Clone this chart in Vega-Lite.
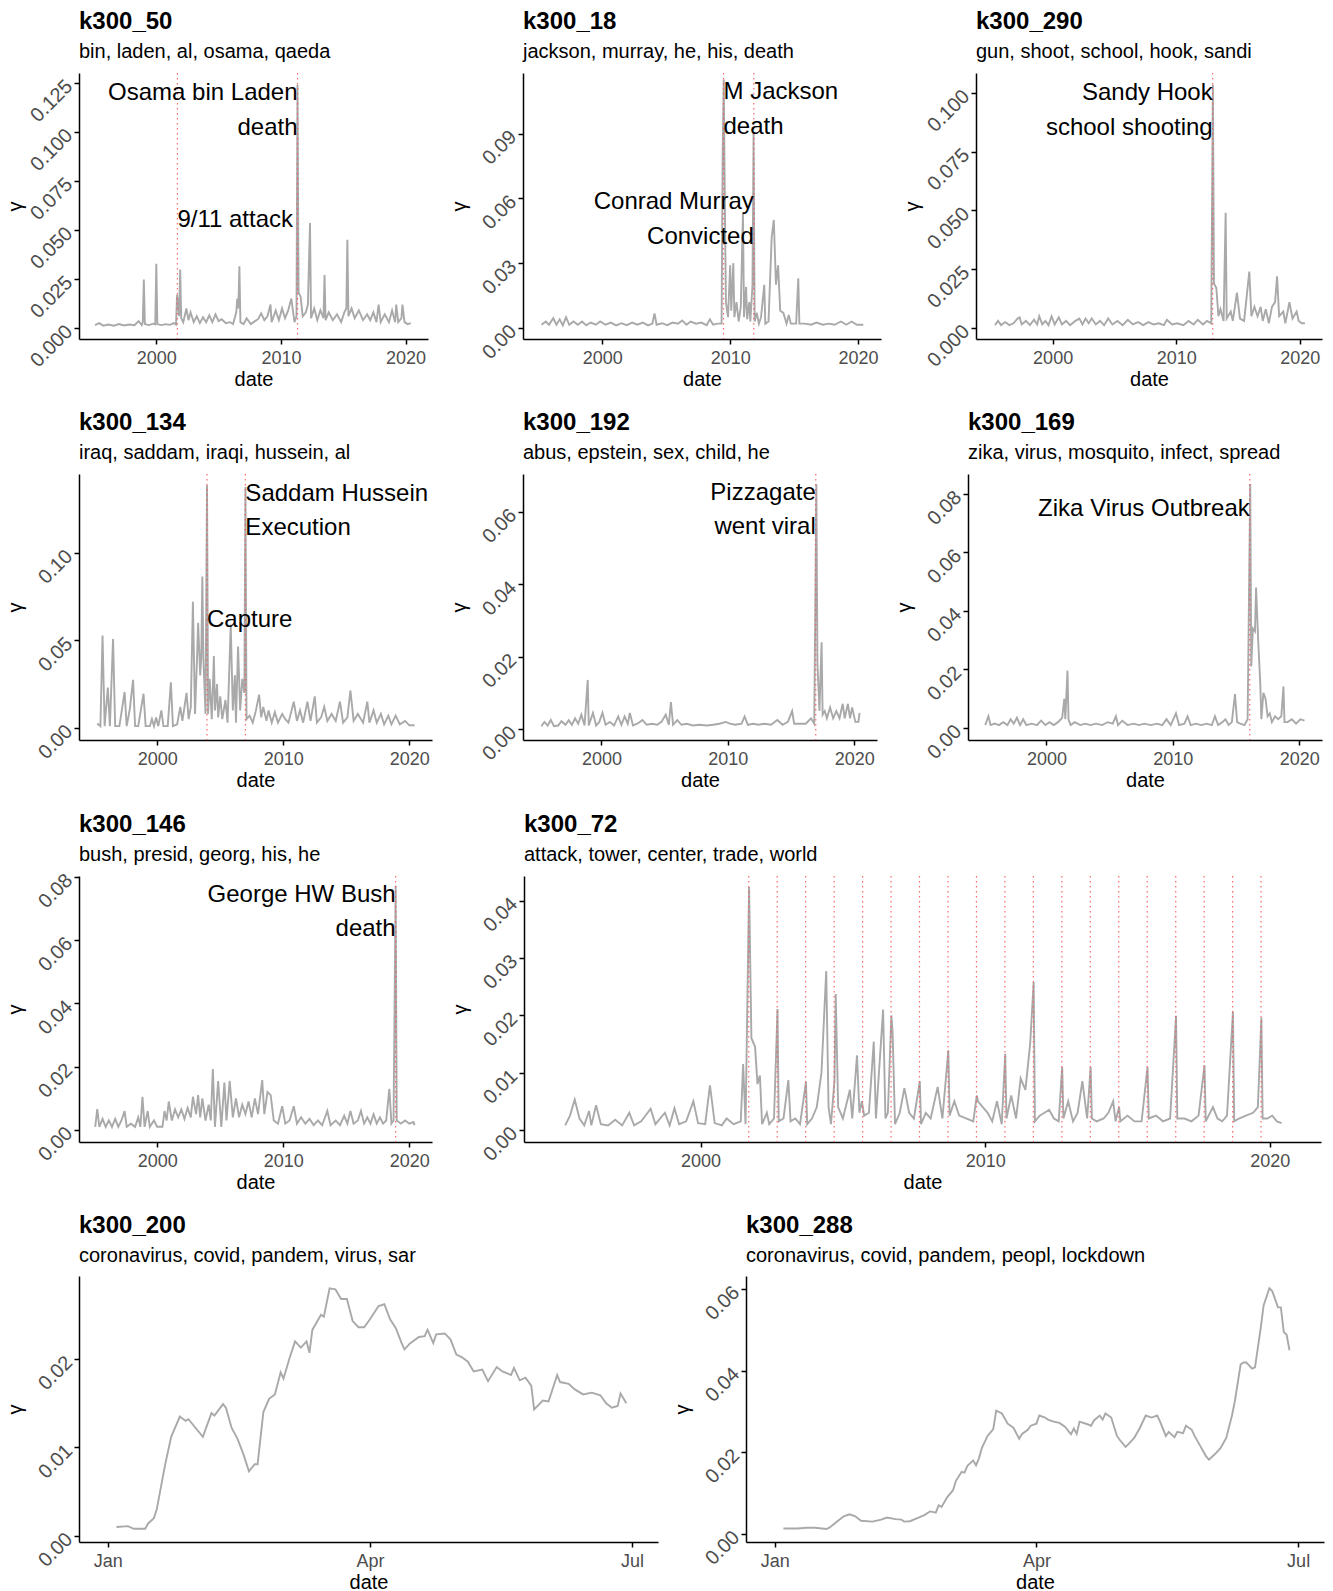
{
"$schema": "https://vega.github.io/schema/vega-lite/v6.json",
"background": "white",
"padding": {"left": 5, "top": 10, "right": 5, "bottom": 5},
"config": {
  "font": "Liberation Sans",
  "view": {"stroke": null},
  "axis": {"grid": false, "domainColor": "black", "domainWidth": 1.5, "tickColor": "black", "tickWidth": 1.5, "tickSize": 5, "labelColor": "#4d4d4d", "labelFontSize": 18, "labelFont": "Liberation Sans", "titleFont": "Liberation Sans", "titleFontSize": 20, "titleFontWeight": "normal", "titleColor": "black", "labelPadding": 5, "labelOverlap": false, "labelBound": false},
  "axisX": {"titlePadding": 2, "labelFlush": false},
  "axisY": {"labelAngle": -45, "labelAlign": "right", "labelBaseline": "middle", "labelFontSize": 20, "titleAngle": -90, "titleX": -64, "titleY": 133, "titleAlign": "center", "titleBaseline": "middle", "titleFontSize": 20},
  "title": {"anchor": "start", "frame": "group", "fontSize": 24, "fontWeight": "bold", "color": "black", "subtitleFontSize": 20, "subtitleColor": "black", "subtitleFont": "Liberation Sans", "subtitlePadding": 8, "offset": 10},
  "line": {"stroke": "#a9a9a9", "strokeWidth": 1.9},
  "rule": {"stroke": "#ff4d4d", "strokeWidth": 1.2, "strokeDash": [1.5, 3.5], "opacity": 0.85},
  "text": {"fontSize": 24, "color": "black", "baseline": "middle", "font": "Liberation Sans"}
},
"datasets": {
"p50": [{"d":"1995-02","v":0.0015},{"d":"1995-06","v":0.0025},{"d":"1995-10","v":0.0012},{"d":"1996-03","v":0.0018},{"d":"1996-08","v":0.0012},{"d":"1997-01","v":0.002},{"d":"1997-06","v":0.0013},{"d":"1997-11","v":0.0018},{"d":"1998-04","v":0.0014},{"d":"1998-08","v":0.0035},{"d":"1998-11","v":0.0015},{"d":"1998-12","v":0.003},{"d":"1999-01","v":0.0247},{"d":"1999-02","v":0.002},{"d":"1999-06","v":0.0015},{"d":"1999-10","v":0.0022},{"d":"1999-12","v":0.0018},{"d":"2000-01","v":0.0328},{"d":"2000-02","v":0.002},{"d":"2000-06","v":0.0015},{"d":"2000-10","v":0.002},{"d":"2001-02","v":0.0016},{"d":"2001-06","v":0.0025},{"d":"2001-08","v":0.0018},{"d":"2001-09","v":0.017},{"d":"2001-10","v":0.012},{"d":"2001-11","v":0.006},{"d":"2001-12","v":0.0298},{"d":"2002-01","v":0.005},{"d":"2002-03","v":0.003},{"d":"2002-06","v":0.01},{"d":"2002-08","v":0.004},{"d":"2002-10","v":0.008},{"d":"2003-01","v":0.003},{"d":"2003-04","v":0.006},{"d":"2003-07","v":0.0025},{"d":"2003-10","v":0.0055},{"d":"2004-01","v":0.003},{"d":"2004-04","v":0.0065},{"d":"2004-07","v":0.003},{"d":"2004-10","v":0.007},{"d":"2005-01","v":0.0035},{"d":"2005-04","v":0.0045},{"d":"2005-08","v":0.0025},{"d":"2005-12","v":0.003},{"d":"2006-03","v":0.002},{"d":"2006-06","v":0.008},{"d":"2006-07","v":0.015},{"d":"2006-08","v":0.01},{"d":"2006-09","v":0.0315},{"d":"2006-10","v":0.003},{"d":"2007-01","v":0.002},{"d":"2007-04","v":0.005},{"d":"2007-08","v":0.002},{"d":"2007-12","v":0.0035},{"d":"2008-03","v":0.0045},{"d":"2008-06","v":0.0075},{"d":"2008-09","v":0.004},{"d":"2008-12","v":0.006},{"d":"2009-03","v":0.012},{"d":"2009-04","v":0.003},{"d":"2009-08","v":0.009},{"d":"2009-11","v":0.004},{"d":"2010-02","v":0.01},{"d":"2010-05","v":0.005},{"d":"2010-08","v":0.009},{"d":"2010-11","v":0.015},{"d":"2011-02","v":0.003},{"d":"2011-04","v":0.006},{"d":"2011-05","v":0.124},{"d":"2011-06","v":0.018},{"d":"2011-08","v":0.016},{"d":"2011-10","v":0.006},{"d":"2012-01","v":0.008},{"d":"2012-03","v":0.012},{"d":"2012-05","v":0.0536},{"d":"2012-06","v":0.005},{"d":"2012-09","v":0.01},{"d":"2012-12","v":0.004},{"d":"2013-03","v":0.009},{"d":"2013-06","v":0.005},{"d":"2013-07","v":0.027},{"d":"2013-08","v":0.004},{"d":"2013-11","v":0.008},{"d":"2014-03","v":0.004},{"d":"2014-07","v":0.007},{"d":"2014-11","v":0.003},{"d":"2015-02","v":0.008},{"d":"2015-04","v":0.01},{"d":"2015-05","v":0.045},{"d":"2015-06","v":0.006},{"d":"2015-09","v":0.01},{"d":"2015-12","v":0.005},{"d":"2016-04","v":0.009},{"d":"2016-08","v":0.004},{"d":"2016-12","v":0.007},{"d":"2017-03","v":0.004},{"d":"2017-06","v":0.008},{"d":"2017-09","v":0.003},{"d":"2017-11","v":0.012},{"d":"2018-01","v":0.003},{"d":"2018-05","v":0.007},{"d":"2018-09","v":0.003},{"d":"2018-12","v":0.009},{"d":"2019-03","v":0.003},{"d":"2019-04","v":0.012},{"d":"2019-06","v":0.003},{"d":"2019-09","v":0.005},{"d":"2019-10","v":0.012},{"d":"2019-12","v":0.003},{"d":"2020-03","v":0.002},{"d":"2020-06","v":0.0025}],
"p18": [{"d":"1995-04","v":0.0015},{"d":"1995-08","v":0.003},{"d":"1995-11","v":0.0015},{"d":"1996-03","v":0.0045},{"d":"1996-06","v":0.0015},{"d":"1996-09","v":0.004},{"d":"1996-12","v":0.0012},{"d":"1997-03","v":0.005},{"d":"1997-06","v":0.0015},{"d":"1997-10","v":0.003},{"d":"1998-02","v":0.0015},{"d":"1998-06","v":0.003},{"d":"1998-10","v":0.0012},{"d":"1999-02","v":0.0025},{"d":"1999-07","v":0.0015},{"d":"1999-11","v":0.003},{"d":"2000-04","v":0.0015},{"d":"2000-09","v":0.0025},{"d":"2001-02","v":0.0012},{"d":"2001-07","v":0.0022},{"d":"2001-12","v":0.0013},{"d":"2002-05","v":0.0025},{"d":"2002-10","v":0.0015},{"d":"2003-03","v":0.0025},{"d":"2003-08","v":0.0012},{"d":"2003-12","v":0.002},{"d":"2004-02","v":0.0067},{"d":"2004-04","v":0.0015},{"d":"2004-09","v":0.0022},{"d":"2005-02","v":0.0013},{"d":"2005-07","v":0.0025},{"d":"2005-12","v":0.002},{"d":"2006-04","v":0.0035},{"d":"2006-08","v":0.0015},{"d":"2006-12","v":0.003},{"d":"2007-05","v":0.002},{"d":"2007-10","v":0.0025},{"d":"2008-03","v":0.0013},{"d":"2008-06","v":0.004},{"d":"2008-09","v":0.0015},{"d":"2009-01","v":0.002},{"d":"2009-05","v":0.002},{"d":"2009-06","v":0.08},{"d":"2009-07","v":0.115},{"d":"2009-08","v":0.06},{"d":"2009-09","v":0.012},{"d":"2009-11","v":0.005},{"d":"2010-01","v":0.029},{"d":"2010-02","v":0.008},{"d":"2010-04","v":0.03},{"d":"2010-05","v":0.005},{"d":"2010-07","v":0.012},{"d":"2010-09","v":0.003},{"d":"2010-11","v":0.01},{"d":"2011-01","v":0.053},{"d":"2011-02","v":0.005},{"d":"2011-04","v":0.019},{"d":"2011-05","v":0.004},{"d":"2011-07","v":0.012},{"d":"2011-08","v":0.003},{"d":"2011-10","v":0.02},{"d":"2011-11","v":0.09},{"d":"2011-12","v":0.003},{"d":"2012-02","v":0.007},{"d":"2012-04","v":0.002},{"d":"2012-06","v":0.005},{"d":"2012-09","v":0.02},{"d":"2012-10","v":0.002},{"d":"2013-01","v":0.003},{"d":"2013-04","v":0.042},{"d":"2013-06","v":0.05},{"d":"2013-08","v":0.02},{"d":"2013-10","v":0.029},{"d":"2013-12","v":0.008},{"d":"2014-03","v":0.007},{"d":"2014-06","v":0.002},{"d":"2014-08","v":0.006},{"d":"2014-10","v":0.002},{"d":"2015-03","v":0.002},{"d":"2015-05","v":0.023},{"d":"2015-06","v":0.002},{"d":"2015-11","v":0.002},{"d":"2016-05","v":0.0015},{"d":"2016-10","v":0.0025},{"d":"2017-04","v":0.0015},{"d":"2017-10","v":0.002},{"d":"2018-03","v":0.0015},{"d":"2018-09","v":0.003},{"d":"2019-02","v":0.0015},{"d":"2019-07","v":0.003},{"d":"2019-12","v":0.0015},{"d":"2020-06","v":0.0015}],
"p290": [{"d":"1995-05","v":0.0012},{"d":"1995-08","v":0.003},{"d":"1995-11","v":0.0012},{"d":"1996-03","v":0.0025},{"d":"1996-07","v":0.0012},{"d":"1996-11","v":0.002},{"d":"1997-03","v":0.004},{"d":"1997-05","v":0.0045},{"d":"1997-07","v":0.0015},{"d":"1997-11","v":0.003},{"d":"1998-03","v":0.0012},{"d":"1998-07","v":0.0035},{"d":"1998-10","v":0.0015},{"d":"1998-12","v":0.005},{"d":"1999-03","v":0.0015},{"d":"1999-06","v":0.003},{"d":"1999-09","v":0.0012},{"d":"1999-12","v":0.005},{"d":"2000-03","v":0.0015},{"d":"2000-07","v":0.0045},{"d":"2000-10","v":0.0015},{"d":"2001-02","v":0.003},{"d":"2001-06","v":0.0012},{"d":"2001-11","v":0.003},{"d":"2002-03","v":0.004},{"d":"2002-06","v":0.0015},{"d":"2002-09","v":0.004},{"d":"2002-12","v":0.002},{"d":"2003-03","v":0.004},{"d":"2003-07","v":0.0015},{"d":"2003-11","v":0.003},{"d":"2004-03","v":0.0012},{"d":"2004-07","v":0.004},{"d":"2004-11","v":0.0015},{"d":"2005-04","v":0.003},{"d":"2005-09","v":0.0012},{"d":"2006-02","v":0.0035},{"d":"2006-07","v":0.0015},{"d":"2006-12","v":0.0025},{"d":"2007-05","v":0.0012},{"d":"2007-10","v":0.0025},{"d":"2008-03","v":0.0015},{"d":"2008-08","v":0.002},{"d":"2009-01","v":0.0012},{"d":"2009-04","v":0.0035},{"d":"2009-09","v":0.0015},{"d":"2010-02","v":0.002},{"d":"2010-08","v":0.0012},{"d":"2011-01","v":0.003},{"d":"2011-06","v":0.0015},{"d":"2011-10","v":0.0035},{"d":"2012-03","v":0.0015},{"d":"2012-07","v":0.003},{"d":"2012-11","v":0.002},{"d":"2012-12-20","v":0.1035},{"d":"2013-01-20","v":0.019},{"d":"2013-04","v":0.017},{"d":"2013-06","v":0.005},{"d":"2013-08","v":0.008},{"d":"2013-11","v":0.003},{"d":"2014-01","v":0.049},{"d":"2014-02","v":0.004},{"d":"2014-06","v":0.007},{"d":"2014-08","v":0.003},{"d":"2014-12","v":0.015},{"d":"2015-03","v":0.004},{"d":"2015-07","v":0.003},{"d":"2015-12","v":0.024},{"d":"2016-02","v":0.005},{"d":"2016-05","v":0.009},{"d":"2016-08","v":0.005},{"d":"2016-11","v":0.009},{"d":"2017-01","v":0.003},{"d":"2017-04","v":0.008},{"d":"2017-07","v":0.002},{"d":"2017-10","v":0.009},{"d":"2018-01","v":0.011},{"d":"2018-03","v":0.022},{"d":"2018-05","v":0.005},{"d":"2018-09","v":0.007},{"d":"2018-11","v":0.002},{"d":"2019-03","v":0.011},{"d":"2019-06","v":0.004},{"d":"2019-10","v":0.007},{"d":"2019-12","v":0.003},{"d":"2020-03","v":0.002},{"d":"2020-06","v":0.002}],
"p134": [{"d":"1995-04","v":0.0025},{"d":"1995-07","v":0.001},{"d":"1995-09","v":0.0528},{"d":"1995-11","v":0.001},{"d":"1996-02","v":0.023},{"d":"1996-04","v":0.001},{"d":"1996-07","v":0.0507},{"d":"1996-09","v":0.001},{"d":"1997-01","v":0.001},{"d":"1997-06","v":0.0205},{"d":"1997-08","v":0.001},{"d":"1997-11","v":0.011},{"d":"1998-02","v":0.0275},{"d":"1998-04","v":0.001},{"d":"1998-07","v":0.001},{"d":"1998-12","v":0.0195},{"d":"1999-02","v":0.001},{"d":"1999-06","v":0.001},{"d":"1999-08","v":0.005},{"d":"1999-10","v":0.001},{"d":"1999-12","v":0.006},{"d":"2000-02","v":0.001},{"d":"2000-05","v":0.01},{"d":"2000-07","v":0.001},{"d":"2000-11","v":0.001},{"d":"2001-02","v":0.026},{"d":"2001-04","v":0.001},{"d":"2001-08","v":0.002},{"d":"2001-11","v":0.012},{"d":"2002-01","v":0.004},{"d":"2002-05","v":0.02},{"d":"2002-07","v":0.005},{"d":"2002-09","v":0.012},{"d":"2002-11","v":0.072},{"d":"2003-01","v":0.008},{"d":"2003-03","v":0.04},{"d":"2003-04","v":0.06},{"d":"2003-06","v":0.03},{"d":"2003-07","v":0.04},{"d":"2003-08","v":0.0864},{"d":"2003-09","v":0.04},{"d":"2003-11","v":0.008},{"d":"2003-12-15","v":0.1386},{"d":"2004-01-15","v":0.008},{"d":"2004-03","v":0.028},{"d":"2004-05","v":0.005},{"d":"2004-07","v":0.041},{"d":"2004-08","v":0.01},{"d":"2004-10","v":0.025},{"d":"2004-11","v":0.006},{"d":"2005-01","v":0.018},{"d":"2005-03","v":0.005},{"d":"2005-06","v":0.016},{"d":"2005-08","v":0.003},{"d":"2005-11","v":0.059},{"d":"2006-01","v":0.01},{"d":"2006-03","v":0.03},{"d":"2006-04","v":0.003},{"d":"2006-06","v":0.0465},{"d":"2006-08","v":0.01},{"d":"2006-10","v":0.028},{"d":"2006-12","v":0.02},{"d":"2007-01","v":0.1376},{"d":"2007-02","v":0.005},{"d":"2007-05","v":0.007},{"d":"2007-08","v":0.003},{"d":"2007-11","v":0.01},{"d":"2008-02","v":0.019},{"d":"2008-04","v":0.006},{"d":"2008-06","v":0.012},{"d":"2008-09","v":0.004},{"d":"2008-11","v":0.01},{"d":"2009-02","v":0.003},{"d":"2009-05","v":0.009},{"d":"2009-08","v":0.003},{"d":"2009-12","v":0.008},{"d":"2010-03","v":0.005},{"d":"2010-06","v":0.003},{"d":"2010-11","v":0.015},{"d":"2011-02","v":0.004},{"d":"2011-05","v":0.01},{"d":"2011-08","v":0.003},{"d":"2011-12","v":0.015},{"d":"2012-03","v":0.004},{"d":"2012-07","v":0.018},{"d":"2012-09","v":0.003},{"d":"2013-01","v":0.006},{"d":"2013-04","v":0.012},{"d":"2013-07","v":0.004},{"d":"2013-11","v":0.008},{"d":"2014-03","v":0.004},{"d":"2014-07","v":0.015},{"d":"2014-10","v":0.003},{"d":"2015-02","v":0.006},{"d":"2015-05","v":0.0213},{"d":"2015-08","v":0.004},{"d":"2015-12","v":0.008},{"d":"2016-05","v":0.003},{"d":"2016-09","v":0.015},{"d":"2016-11","v":0.003},{"d":"2017-03","v":0.01},{"d":"2017-06","v":0.003},{"d":"2017-10","v":0.008},{"d":"2018-01","v":0.002},{"d":"2018-05","v":0.007},{"d":"2018-08","v":0.002},{"d":"2018-12","v":0.007},{"d":"2019-04","v":0.002},{"d":"2019-09","v":0.004},{"d":"2020-01","v":0.0015},{"d":"2020-06","v":0.0015}],
"p192": [{"d":"1995-04","v":0.0008},{"d":"1995-07","v":0.002},{"d":"1995-10","v":0.001},{"d":"1996-01","v":0.0025},{"d":"1996-04","v":0.0008},{"d":"1996-08","v":0.001},{"d":"1996-11","v":0.0022},{"d":"1997-03","v":0.0012},{"d":"1997-06","v":0.0025},{"d":"1997-09","v":0.0012},{"d":"1997-12","v":0.003},{"d":"1998-03","v":0.0015},{"d":"1998-06","v":0.004},{"d":"1998-09","v":0.001},{"d":"1998-12","v":0.0136},{"d":"1999-01","v":0.001},{"d":"1999-05","v":0.0045},{"d":"1999-08","v":0.001},{"d":"1999-11","v":0.002},{"d":"2000-02","v":0.0045},{"d":"2000-05","v":0.0012},{"d":"2000-09","v":0.002},{"d":"2001-01","v":0.001},{"d":"2001-05","v":0.0035},{"d":"2001-08","v":0.0012},{"d":"2001-11","v":0.0035},{"d":"2002-02","v":0.0015},{"d":"2002-04","v":0.0045},{"d":"2002-07","v":0.001},{"d":"2002-11","v":0.0015},{"d":"2003-04","v":0.0025},{"d":"2003-08","v":0.0012},{"d":"2004-01","v":0.0015},{"d":"2004-06","v":0.0012},{"d":"2004-10","v":0.002},{"d":"2005-02","v":0.004},{"d":"2005-05","v":0.0012},{"d":"2005-07","v":0.0075},{"d":"2005-09","v":0.0012},{"d":"2006-01","v":0.0025},{"d":"2006-05","v":0.0012},{"d":"2006-10","v":0.0015},{"d":"2007-04","v":0.001},{"d":"2007-10","v":0.0012},{"d":"2008-05","v":0.001},{"d":"2008-11","v":0.0012},{"d":"2009-05","v":0.0015},{"d":"2009-11","v":0.002},{"d":"2010-03","v":0.0015},{"d":"2010-08","v":0.0012},{"d":"2011-02","v":0.0015},{"d":"2011-05","v":0.0035},{"d":"2011-08","v":0.0012},{"d":"2012-01","v":0.0015},{"d":"2012-06","v":0.0012},{"d":"2012-12","v":0.0015},{"d":"2013-06","v":0.0012},{"d":"2013-12","v":0.0025},{"d":"2014-05","v":0.0012},{"d":"2014-10","v":0.002},{"d":"2015-02","v":0.005},{"d":"2015-04","v":0.0015},{"d":"2015-09","v":0.0015},{"d":"2016-03","v":0.0015},{"d":"2016-08","v":0.003},{"d":"2016-11","v":0.0015},{"d":"2017-01","v":0.0677},{"d":"2017-02","v":0.0182},{"d":"2017-04","v":0.005},{"d":"2017-06","v":0.024},{"d":"2017-07","v":0.004},{"d":"2017-09","v":0.005},{"d":"2017-11","v":0.003},{"d":"2018-02","v":0.006},{"d":"2018-05","v":0.003},{"d":"2018-08","v":0.005},{"d":"2018-11","v":0.003},{"d":"2019-02","v":0.007},{"d":"2019-04","v":0.003},{"d":"2019-07","v":0.007},{"d":"2019-09","v":0.003},{"d":"2019-11","v":0.006},{"d":"2020-02","v":0.002},{"d":"2020-05","v":0.002},{"d":"2020-06","v":0.0045}],
"p169": [{"d":"1995-03","v":0.001},{"d":"1995-06","v":0.004},{"d":"1995-08","v":0.001},{"d":"1995-12","v":0.0015},{"d":"1996-04","v":0.001},{"d":"1996-08","v":0.002},{"d":"1996-12","v":0.001},{"d":"1997-03","v":0.003},{"d":"1997-06","v":0.0015},{"d":"1997-09","v":0.0035},{"d":"1997-12","v":0.001},{"d":"1998-03","v":0.003},{"d":"1998-06","v":0.001},{"d":"1998-11","v":0.0015},{"d":"1999-04","v":0.001},{"d":"1999-08","v":0.0025},{"d":"1999-12","v":0.001},{"d":"2000-04","v":0.002},{"d":"2000-08","v":0.001},{"d":"2000-12","v":0.002},{"d":"2001-04","v":0.0035},{"d":"2001-06","v":0.01},{"d":"2001-07","v":0.003},{"d":"2001-09","v":0.0196},{"d":"2001-10","v":0.003},{"d":"2001-12","v":0.001},{"d":"2002-04","v":0.002},{"d":"2002-09","v":0.001},{"d":"2003-02","v":0.0015},{"d":"2003-07","v":0.001},{"d":"2003-12","v":0.0015},{"d":"2004-06","v":0.001},{"d":"2004-11","v":0.002},{"d":"2005-04","v":0.0015},{"d":"2005-07","v":0.004},{"d":"2005-09","v":0.001},{"d":"2006-01","v":0.0025},{"d":"2006-06","v":0.001},{"d":"2006-12","v":0.0015},{"d":"2007-05","v":0.001},{"d":"2007-10","v":0.0015},{"d":"2008-04","v":0.001},{"d":"2008-10","v":0.0015},{"d":"2009-03","v":0.001},{"d":"2009-07","v":0.003},{"d":"2009-11","v":0.001},{"d":"2010-04","v":0.005},{"d":"2010-07","v":0.001},{"d":"2010-12","v":0.0015},{"d":"2011-03","v":0.004},{"d":"2011-06","v":0.001},{"d":"2011-11","v":0.0015},{"d":"2012-04","v":0.001},{"d":"2012-09","v":0.0015},{"d":"2013-02","v":0.001},{"d":"2013-05","v":0.004},{"d":"2013-08","v":0.001},{"d":"2013-12","v":0.002},{"d":"2014-03","v":0.003},{"d":"2014-06","v":0.001},{"d":"2014-09","v":0.002},{"d":"2014-12","v":0.0116},{"d":"2015-02","v":0.002},{"d":"2015-05","v":0.0015},{"d":"2015-09","v":0.001},{"d":"2015-12","v":0.003},{"d":"2016-02-15","v":0.0834},{"d":"2016-03-15","v":0.021},{"d":"2016-05","v":0.034},{"d":"2016-07","v":0.033},{"d":"2016-08","v":0.048},{"d":"2016-10","v":0.03},{"d":"2016-12","v":0.015},{"d":"2017-01","v":0.003},{"d":"2017-03","v":0.012},{"d":"2017-05","v":0.01},{"d":"2017-07","v":0.004},{"d":"2017-09","v":0.005},{"d":"2017-11","v":0.002},{"d":"2018-02","v":0.004},{"d":"2018-05","v":0.003},{"d":"2018-08","v":0.004},{"d":"2018-10","v":0.0142},{"d":"2018-11","v":0.002},{"d":"2019-02","v":0.002},{"d":"2019-06","v":0.003},{"d":"2019-10","v":0.0015},{"d":"2020-02","v":0.003},{"d":"2020-06","v":0.0025}],
"p146": [{"d":"1995-02","v":0.001},{"d":"1995-04","v":0.0066},{"d":"1995-06","v":0.001},{"d":"1995-09","v":0.0035},{"d":"1995-12","v":0.001},{"d":"1996-03","v":0.003},{"d":"1996-06","v":0.001},{"d":"1996-09","v":0.0035},{"d":"1996-12","v":0.001},{"d":"1997-03","v":0.003},{"d":"1997-06","v":0.006},{"d":"1997-08","v":0.001},{"d":"1997-12","v":0.002},{"d":"1998-04","v":0.001},{"d":"1998-07","v":0.004},{"d":"1998-09","v":0.001},{"d":"1998-11","v":0.0105},{"d":"1999-01","v":0.001},{"d":"1999-04","v":0.006},{"d":"1999-06","v":0.001},{"d":"1999-10","v":0.003},{"d":"2000-01","v":0.001},{"d":"2000-06","v":0.001},{"d":"2000-08","v":0.006},{"d":"2000-10","v":0.003},{"d":"2000-12","v":0.009},{"d":"2001-03","v":0.003},{"d":"2001-06","v":0.0065},{"d":"2001-09","v":0.004},{"d":"2001-12","v":0.0065},{"d":"2002-03","v":0.0035},{"d":"2002-06","v":0.007},{"d":"2002-09","v":0.004},{"d":"2002-11","v":0.0105},{"d":"2003-02","v":0.005},{"d":"2003-04","v":0.011},{"d":"2003-06","v":0.004},{"d":"2003-08","v":0.01},{"d":"2003-11","v":0.003},{"d":"2004-02","v":0.008},{"d":"2004-04","v":0.003},{"d":"2004-06","v":0.0193},{"d":"2004-08","v":0.001},{"d":"2004-11","v":0.0155},{"d":"2005-02","v":0.001},{"d":"2005-05","v":0.015},{"d":"2005-07","v":0.003},{"d":"2005-10","v":0.0155},{"d":"2006-01","v":0.004},{"d":"2006-04","v":0.01},{"d":"2006-07","v":0.004},{"d":"2006-10","v":0.008},{"d":"2007-01","v":0.005},{"d":"2007-04","v":0.009},{"d":"2007-07","v":0.004},{"d":"2007-10","v":0.01},{"d":"2008-01","v":0.005},{"d":"2008-05","v":0.0158},{"d":"2008-07","v":0.005},{"d":"2008-10","v":0.012},{"d":"2009-01","v":0.011},{"d":"2009-04","v":0.003},{"d":"2009-08","v":0.002},{"d":"2009-12","v":0.0075},{"d":"2010-03","v":0.002},{"d":"2010-07","v":0.003},{"d":"2010-11","v":0.0075},{"d":"2011-02","v":0.002},{"d":"2011-06","v":0.004},{"d":"2011-10","v":0.002},{"d":"2012-02","v":0.0035},{"d":"2012-06","v":0.0015},{"d":"2012-10","v":0.003},{"d":"2013-02","v":0.0015},{"d":"2013-07","v":0.006},{"d":"2013-10","v":0.0015},{"d":"2014-03","v":0.003},{"d":"2014-07","v":0.0015},{"d":"2014-11","v":0.0045},{"d":"2015-02","v":0.002},{"d":"2015-05","v":0.006},{"d":"2015-08","v":0.002},{"d":"2015-12","v":0.003},{"d":"2016-03","v":0.006},{"d":"2016-06","v":0.002},{"d":"2016-09","v":0.004},{"d":"2016-12","v":0.002},{"d":"2017-03","v":0.005},{"d":"2017-06","v":0.002},{"d":"2017-09","v":0.004},{"d":"2017-12","v":0.002},{"d":"2018-03","v":0.003},{"d":"2018-06","v":0.013},{"d":"2018-08","v":0.002},{"d":"2018-10","v":0.003},{"d":"2018-12","v":0.0772},{"d":"2019-01","v":0.003},{"d":"2019-05","v":0.002},{"d":"2019-09","v":0.003},{"d":"2020-01","v":0.002},{"d":"2020-05","v":0.0025},{"d":"2020-06","v":0.0015}],
"p72": [{"d":"1995-04","v":0.0008},{"d":"1995-06","v":0.0025},{"d":"1995-08","v":0.0053},{"d":"1995-10","v":0.002},{"d":"1995-12","v":0.0008},{"d":"1996-02","v":0.0033},{"d":"1996-03","v":0.0008},{"d":"1996-05","v":0.0043},{"d":"1996-07","v":0.001},{"d":"1996-10","v":0.0008},{"d":"1997-01","v":0.0018},{"d":"1997-04","v":0.0008},{"d":"1997-07","v":0.003},{"d":"1997-09","v":0.0008},{"d":"1997-12","v":0.0015},{"d":"1998-04","v":0.0037},{"d":"1998-06","v":0.001},{"d":"1998-10","v":0.003},{"d":"1998-12","v":0.0008},{"d":"1999-02","v":0.0038},{"d":"1999-04","v":0.001},{"d":"1999-07","v":0.0015},{"d":"1999-10","v":0.005},{"d":"1999-12","v":0.0012},{"d":"2000-03","v":0.001},{"d":"2000-05","v":0.0078},{"d":"2000-07","v":0.0012},{"d":"2000-10","v":0.0008},{"d":"2000-12","v":0.002},{"d":"2001-03","v":0.001},{"d":"2001-06","v":0.0015},{"d":"2001-07","v":0.0115},{"d":"2001-08","v":0.001},{"d":"2001-09-15","v":0.0424},{"d":"2001-10-15","v":0.016},{"d":"2001-12","v":0.0145},{"d":"2002-01","v":0.008},{"d":"2002-02","v":0.0095},{"d":"2002-03","v":0.001},{"d":"2002-05","v":0.003},{"d":"2002-06","v":0.001},{"d":"2002-08","v":0.002},{"d":"2002-09-15","v":0.0211},{"d":"2002-10","v":0.0015},{"d":"2002-12","v":0.002},{"d":"2003-02","v":0.0087},{"d":"2003-03","v":0.0015},{"d":"2003-05","v":0.002},{"d":"2003-07","v":0.001},{"d":"2003-09-15","v":0.0084},{"d":"2003-10","v":0.001},{"d":"2003-12","v":0.002},{"d":"2004-02","v":0.004},{"d":"2004-04","v":0.01},{"d":"2004-06","v":0.0277},{"d":"2004-07","v":0.004},{"d":"2004-08","v":0.001},{"d":"2004-09-15","v":0.0086},{"d":"2004-10","v":0.0237},{"d":"2004-11","v":0.004},{"d":"2005-01","v":0.002},{"d":"2005-04","v":0.007},{"d":"2005-05","v":0.002},{"d":"2005-07","v":0.013},{"d":"2005-08","v":0.003},{"d":"2005-09","v":0.005},{"d":"2005-10","v":0.0025},{"d":"2005-12","v":0.003},{"d":"2006-02","v":0.0154},{"d":"2006-03","v":0.002},{"d":"2006-06","v":0.021},{"d":"2006-07","v":0.002},{"d":"2006-08","v":0.003},{"d":"2006-09-15","v":0.02},{"d":"2006-10","v":0.017},{"d":"2006-11","v":0.001},{"d":"2007-01","v":0.003},{"d":"2007-03","v":0.0073},{"d":"2007-05","v":0.003},{"d":"2007-07","v":0.002},{"d":"2007-09-15","v":0.0085},{"d":"2007-10","v":0.001},{"d":"2007-12","v":0.003},{"d":"2008-02","v":0.002},{"d":"2008-05","v":0.0075},{"d":"2008-07","v":0.002},{"d":"2008-09-15","v":0.0139},{"d":"2008-10","v":0.0025},{"d":"2008-12","v":0.005},{"d":"2009-02","v":0.0025},{"d":"2009-05","v":0.002},{"d":"2009-08","v":0.0015},{"d":"2009-09-15","v":0.006},{"d":"2009-10","v":0.005},{"d":"2009-12","v":0.004},{"d":"2010-02","v":0.003},{"d":"2010-04","v":0.0015},{"d":"2010-06","v":0.005},{"d":"2010-08","v":0.001},{"d":"2010-09-15","v":0.0133},{"d":"2010-10","v":0.002},{"d":"2010-12","v":0.006},{"d":"2011-02","v":0.002},{"d":"2011-04","v":0.009},{"d":"2011-06","v":0.007},{"d":"2011-08","v":0.015},{"d":"2011-09-15","v":0.0258},{"d":"2011-10","v":0.0015},{"d":"2011-12","v":0.0025},{"d":"2012-02","v":0.003},{"d":"2012-04","v":0.0035},{"d":"2012-06","v":0.002},{"d":"2012-08","v":0.0015},{"d":"2012-09-15","v":0.011},{"d":"2012-10","v":0.002},{"d":"2012-12","v":0.005},{"d":"2013-02","v":0.0015},{"d":"2013-04","v":0.003},{"d":"2013-06","v":0.0085},{"d":"2013-08","v":0.002},{"d":"2013-09-15","v":0.011},{"d":"2013-10","v":0.002},{"d":"2013-12","v":0.0015},{"d":"2014-03","v":0.002},{"d":"2014-05","v":0.003},{"d":"2014-07","v":0.005},{"d":"2014-08","v":0.0015},{"d":"2014-09-15","v":0.004},{"d":"2014-10","v":0.0015},{"d":"2015-01","v":0.0025},{"d":"2015-04","v":0.0015},{"d":"2015-07","v":0.0015},{"d":"2015-09-15","v":0.011},{"d":"2015-10","v":0.002},{"d":"2016-01","v":0.0025},{"d":"2016-04","v":0.0015},{"d":"2016-07","v":0.002},{"d":"2016-09-15","v":0.0199},{"d":"2016-10","v":0.002},{"d":"2017-01","v":0.002},{"d":"2017-04","v":0.0015},{"d":"2017-07","v":0.0025},{"d":"2017-09-15","v":0.0113},{"d":"2017-10","v":0.0015},{"d":"2018-01","v":0.004},{"d":"2018-03","v":0.002},{"d":"2018-05","v":0.0015},{"d":"2018-07","v":0.0025},{"d":"2018-09-15","v":0.0206},{"d":"2018-10","v":0.0015},{"d":"2018-12","v":0.002},{"d":"2019-03","v":0.0025},{"d":"2019-06","v":0.003},{"d":"2019-08","v":0.004},{"d":"2019-09-15","v":0.0196},{"d":"2019-10","v":0.002},{"d":"2019-12","v":0.002},{"d":"2020-02","v":0.0025},{"d":"2020-04","v":0.0015},{"d":"2020-06","v":0.0012}],
"p200": [{"d":"2020-01-04","v":0.001},{"d":"2020-01-08","v":0.0011},{"d":"2020-01-10","v":0.0008},{"d":"2020-01-14","v":0.0008},{"d":"2020-01-15","v":0.0014},{"d":"2020-01-17","v":0.002},{"d":"2020-01-18","v":0.003},{"d":"2020-01-20","v":0.0065},{"d":"2020-01-21","v":0.0082},{"d":"2020-01-23","v":0.0112},{"d":"2020-01-26","v":0.0135},{"d":"2020-01-28","v":0.013},{"d":"2020-01-29","v":0.0132},{"d":"2020-01-31","v":0.0124},{"d":"2020-02-03","v":0.0112},{"d":"2020-02-06","v":0.0139},{"d":"2020-02-07","v":0.0136},{"d":"2020-02-10","v":0.0149},{"d":"2020-02-11","v":0.0145},{"d":"2020-02-13","v":0.0122},{"d":"2020-02-15","v":0.011},{"d":"2020-02-17","v":0.0093},{"d":"2020-02-19","v":0.0073},{"d":"2020-02-21","v":0.0081},{"d":"2020-02-22","v":0.0081},{"d":"2020-02-24","v":0.014},{"d":"2020-02-26","v":0.0155},{"d":"2020-02-28","v":0.016},{"d":"2020-03-01","v":0.0185},{"d":"2020-03-02","v":0.0178},{"d":"2020-03-04","v":0.02},{"d":"2020-03-06","v":0.022},{"d":"2020-03-08","v":0.0213},{"d":"2020-03-10","v":0.022},{"d":"2020-03-11","v":0.0207},{"d":"2020-03-12","v":0.0233},{"d":"2020-03-15","v":0.025},{"d":"2020-03-16","v":0.0248},{"d":"2020-03-18","v":0.028},{"d":"2020-03-20","v":0.0279},{"d":"2020-03-22","v":0.0268},{"d":"2020-03-24","v":0.0268},{"d":"2020-03-26","v":0.0243},{"d":"2020-03-28","v":0.0236},{"d":"2020-03-30","v":0.0236},{"d":"2020-04-01","v":0.0245},{"d":"2020-04-04","v":0.026},{"d":"2020-04-06","v":0.0262},{"d":"2020-04-08","v":0.0245},{"d":"2020-04-10","v":0.0235},{"d":"2020-04-12","v":0.0218},{"d":"2020-04-13","v":0.0211},{"d":"2020-04-15","v":0.0218},{"d":"2020-04-18","v":0.0225},{"d":"2020-04-20","v":0.0226},{"d":"2020-04-21","v":0.0233},{"d":"2020-04-23","v":0.0218},{"d":"2020-04-24","v":0.0228},{"d":"2020-04-27","v":0.0229},{"d":"2020-04-29","v":0.0222},{"d":"2020-05-01","v":0.0205},{"d":"2020-05-03","v":0.0202},{"d":"2020-05-05","v":0.0197},{"d":"2020-05-07","v":0.0186},{"d":"2020-05-10","v":0.0188},{"d":"2020-05-12","v":0.0175},{"d":"2020-05-15","v":0.0191},{"d":"2020-05-17","v":0.0186},{"d":"2020-05-20","v":0.0182},{"d":"2020-05-21","v":0.019},{"d":"2020-05-23","v":0.0176},{"d":"2020-05-25","v":0.0179},{"d":"2020-05-27","v":0.017},{"d":"2020-05-28","v":0.0143},{"d":"2020-05-31","v":0.0153},{"d":"2020-06-02","v":0.0152},{"d":"2020-06-05","v":0.0182},{"d":"2020-06-06","v":0.0174},{"d":"2020-06-09","v":0.0172},{"d":"2020-06-11","v":0.0166},{"d":"2020-06-14","v":0.016},{"d":"2020-06-17","v":0.0162},{"d":"2020-06-20","v":0.0159},{"d":"2020-06-22","v":0.015},{"d":"2020-06-24","v":0.0145},{"d":"2020-06-26","v":0.0147},{"d":"2020-06-27","v":0.0161},{"d":"2020-06-29","v":0.015}],
"p288": [{"d":"2020-01-04","v":0.0013},{"d":"2020-01-09","v":0.0013},{"d":"2020-01-12","v":0.0015},{"d":"2020-01-15","v":0.0015},{"d":"2020-01-19","v":0.0012},{"d":"2020-01-20","v":0.0015},{"d":"2020-01-23","v":0.0032},{"d":"2020-01-25","v":0.0043},{"d":"2020-01-27","v":0.0048},{"d":"2020-01-29","v":0.0043},{"d":"2020-01-31","v":0.0032},{"d":"2020-02-04","v":0.003},{"d":"2020-02-07","v":0.0035},{"d":"2020-02-09","v":0.004},{"d":"2020-02-12","v":0.0036},{"d":"2020-02-14","v":0.0035},{"d":"2020-02-15","v":0.003},{"d":"2020-02-17","v":0.0031},{"d":"2020-02-20","v":0.004},{"d":"2020-02-22","v":0.0046},{"d":"2020-02-24","v":0.0055},{"d":"2020-02-26","v":0.0052},{"d":"2020-02-27","v":0.007},{"d":"2020-02-28","v":0.0066},{"d":"2020-03-01","v":0.009},{"d":"2020-03-03","v":0.0107},{"d":"2020-03-04","v":0.013},{"d":"2020-03-06","v":0.0152},{"d":"2020-03-07","v":0.015},{"d":"2020-03-08","v":0.0167},{"d":"2020-03-10","v":0.018},{"d":"2020-03-11","v":0.0168},{"d":"2020-03-12","v":0.0185},{"d":"2020-03-13","v":0.021},{"d":"2020-03-15","v":0.024},{"d":"2020-03-17","v":0.0257},{"d":"2020-03-18","v":0.0302},{"d":"2020-03-20","v":0.0295},{"d":"2020-03-22","v":0.027},{"d":"2020-03-24","v":0.026},{"d":"2020-03-26","v":0.0233},{"d":"2020-03-27","v":0.0245},{"d":"2020-03-29","v":0.0255},{"d":"2020-03-30","v":0.0265},{"d":"2020-04-01","v":0.027},{"d":"2020-04-02","v":0.029},{"d":"2020-04-04","v":0.0285},{"d":"2020-04-05","v":0.028},{"d":"2020-04-07","v":0.0275},{"d":"2020-04-09","v":0.0272},{"d":"2020-04-11","v":0.0262},{"d":"2020-04-13","v":0.0244},{"d":"2020-04-14","v":0.0258},{"d":"2020-04-15","v":0.0245},{"d":"2020-04-16","v":0.0275},{"d":"2020-04-19","v":0.0268},{"d":"2020-04-20","v":0.0265},{"d":"2020-04-21","v":0.0278},{"d":"2020-04-23","v":0.029},{"d":"2020-04-24","v":0.028},{"d":"2020-04-25","v":0.0295},{"d":"2020-04-27","v":0.0285},{"d":"2020-04-29","v":0.024},{"d":"2020-04-30","v":0.023},{"d":"2020-05-02","v":0.0213},{"d":"2020-05-03","v":0.022},{"d":"2020-05-05","v":0.0235},{"d":"2020-05-07","v":0.026},{"d":"2020-05-09","v":0.029},{"d":"2020-05-11","v":0.0285},{"d":"2020-05-13","v":0.029},{"d":"2020-05-14","v":0.0275},{"d":"2020-05-16","v":0.024},{"d":"2020-05-17","v":0.025},{"d":"2020-05-19","v":0.0237},{"d":"2020-05-20","v":0.025},{"d":"2020-05-22","v":0.0247},{"d":"2020-05-23","v":0.0265},{"d":"2020-05-25","v":0.0255},{"d":"2020-05-26","v":0.024},{"d":"2020-05-28","v":0.0215},{"d":"2020-05-30","v":0.019},{"d":"2020-05-31","v":0.0182},{"d":"2020-06-02","v":0.0195},{"d":"2020-06-04","v":0.021},{"d":"2020-06-06","v":0.0235},{"d":"2020-06-08","v":0.029},{"d":"2020-06-09","v":0.0325},{"d":"2020-06-11","v":0.0415},{"d":"2020-06-12","v":0.042},{"d":"2020-06-13","v":0.042},{"d":"2020-06-15","v":0.0405},{"d":"2020-06-16","v":0.0408},{"d":"2020-06-18","v":0.0505},{"d":"2020-06-19","v":0.056},{"d":"2020-06-21","v":0.0602},{"d":"2020-06-22","v":0.0595},{"d":"2020-06-24","v":0.0555},{"d":"2020-06-25","v":0.0555},{"d":"2020-06-26","v":0.0495},{"d":"2020-06-27","v":0.0488},{"d":"2020-06-28","v":0.045}]
},
"vconcat": [
{"hconcat": [
 {"width": 349, "height": 266, "title": {"text": "k300_50", "subtitle": "bin, laden, al, osama, qaeda"},
  "layer": [
   {"data": {"name": "p50"}, "mark": "line", "encoding": {
     "x": {"field": "d", "type": "temporal", "title": "date", "scale": {"type": "utc", "domain": [{"year": 1993, "month": 10, "date": 19, "utc": true}, {"year": 2021, "month": 10, "date": 19, "utc": true}]}, "axis": {"values": [{"year": 2000, "month": 1, "date": 1, "utc": true}, {"year": 2010, "month": 1, "date": 1, "utc": true}, {"year": 2020, "month": 1, "date": 1, "utc": true}], "format": "%Y"}},
     "y": {"field": "v", "type": "quantitative", "title": "γ", "scale": {"domain": [-0.0056, 0.1301], "nice": false, "zero": false}, "axis": {"values": [0, 0.025, 0.05, 0.075, 0.1, 0.125], "format": ".3f"}}}},
   {"data": {"values": [{"d": "2001-09-11"}, {"d": "2011-05-02"}]}, "mark": "rule", "encoding": {"x": {"field": "d", "type": "temporal", "title": "date"}}},
   {"data": {"values": [{"d": "2011-05-02", "v": 0.1199, "t": "Osama bin Laden"}, {"d": "2011-05-02", "v": 0.102, "t": "death"}]}, "mark": {"type": "text", "align": "right"}, "encoding": {"x": {"field": "d", "type": "temporal", "title": "date"}, "y": {"field": "v", "type": "quantitative", "title": "γ"}, "text": {"field": "t"}}},
   {"data": {"values": [{"d": "2001-09-11", "v": 0.0551, "t": "9/11 attack"}]}, "mark": {"type": "text", "align": "left"}, "encoding": {"x": {"field": "d", "type": "temporal", "title": "date"}, "y": {"field": "v", "type": "quantitative", "title": "γ"}, "text": {"field": "t"}}}
  ]},
 {"width": 358, "height": 266, "title": {"text": "k300_18", "subtitle": "jackson, murray, he, his, death"},
  "layer": [
   {"data": {"name": "p18"}, "mark": "line", "encoding": {
     "x": {"field": "d", "type": "temporal", "title": "date", "scale": {"type": "utc", "domain": [{"year": 1993, "month": 10, "date": 19, "utc": true}, {"year": 2021, "month": 10, "date": 19, "utc": true}]}, "axis": {"values": [{"year": 2000, "month": 1, "date": 1, "utc": true}, {"year": 2010, "month": 1, "date": 1, "utc": true}, {"year": 2020, "month": 1, "date": 1, "utc": true}], "format": "%Y"}},
     "y": {"field": "v", "type": "quantitative", "title": "γ", "scale": {"domain": [-0.0051, 0.118], "nice": false, "zero": false}, "axis": {"values": [0, 0.03, 0.06, 0.09], "format": ".2f"}}}},
   {"data": {"values": [{"d": "2009-06-25"}, {"d": "2011-11-07"}]}, "mark": "rule", "encoding": {"x": {"field": "d", "type": "temporal", "title": "date"}}},
   {"data": {"values": [{"d": "2009-06-25", "v": 0.109, "t": "M Jackson"}, {"d": "2009-06-25", "v": 0.093, "t": "death"}]}, "mark": {"type": "text", "align": "left"}, "encoding": {"x": {"field": "d", "type": "temporal", "title": "date"}, "y": {"field": "v", "type": "quantitative", "title": "γ"}, "text": {"field": "t"}}},
   {"data": {"values": [{"d": "2011-11-07", "v": 0.0583, "t": "Conrad Murray"}, {"d": "2011-11-07", "v": 0.042, "t": "Convicted"}]}, "mark": {"type": "text", "align": "right"}, "encoding": {"x": {"field": "d", "type": "temporal", "title": "date"}, "y": {"field": "v", "type": "quantitative", "title": "γ"}, "text": {"field": "t"}}}
  ]},
 {"width": 346, "height": 266, "title": {"text": "k300_290", "subtitle": "gun, shoot, school, hook, sandi"},
  "layer": [
   {"data": {"name": "p290"}, "mark": "line", "encoding": {
     "x": {"field": "d", "type": "temporal", "title": "date", "scale": {"type": "utc", "domain": [{"year": 1993, "month": 10, "date": 19, "utc": true}, {"year": 2021, "month": 10, "date": 19, "utc": true}]}, "axis": {"values": [{"year": 2000, "month": 1, "date": 1, "utc": true}, {"year": 2010, "month": 1, "date": 1, "utc": true}, {"year": 2020, "month": 1, "date": 1, "utc": true}], "format": "%Y"}},
     "y": {"field": "v", "type": "quantitative", "title": "γ", "scale": {"domain": [-0.0047, 0.1085], "nice": false, "zero": false}, "axis": {"values": [0, 0.025, 0.05, 0.075, 0.1], "format": ".3f"}}}},
   {"data": {"values": [{"d": "2012-12-14"}]}, "mark": "rule", "encoding": {"x": {"field": "d", "type": "temporal", "title": "date"}}},
   {"data": {"values": [{"d": "2012-12-14", "v": 0.1, "t": "Sandy Hook"}, {"d": "2012-12-14", "v": 0.085, "t": "school shooting"}]}, "mark": {"type": "text", "align": "right"}, "encoding": {"x": {"field": "d", "type": "temporal", "title": "date"}, "y": {"field": "v", "type": "quantitative", "title": "γ"}, "text": {"field": "t"}}}
  ]}
 ], "spacing": 95, "bounds": "flush"},
{"hconcat": [
 {"width": 353, "height": 266, "title": {"text": "k300_134", "subtitle": "iraq, saddam, iraqi, hussein, al"},
  "layer": [
   {"data": {"name": "p134"}, "mark": "line", "encoding": {
     "x": {"field": "d", "type": "temporal", "title": "date", "scale": {"type": "utc", "domain": [{"year": 1993, "month": 10, "date": 19, "utc": true}, {"year": 2021, "month": 10, "date": 19, "utc": true}]}, "axis": {"values": [{"year": 2000, "month": 1, "date": 1, "utc": true}, {"year": 2010, "month": 1, "date": 1, "utc": true}, {"year": 2020, "month": 1, "date": 1, "utc": true}], "format": "%Y"}},
     "y": {"field": "v", "type": "quantitative", "title": "γ", "scale": {"domain": [-0.0069, 0.145], "nice": false, "zero": false}, "axis": {"values": [0, 0.05, 0.1], "format": ".2f"}}}},
   {"data": {"values": [{"d": "2003-12-13"}, {"d": "2006-12-30"}]}, "mark": "rule", "encoding": {"x": {"field": "d", "type": "temporal", "title": "date"}}},
   {"data": {"values": [{"d": "2006-12-30", "v": 0.1338, "t": "Saddam Hussein"}, {"d": "2006-12-30", "v": 0.1139, "t": "Execution"}, {"d": "2003-12-13", "v": 0.0617, "t": "Capture"}]}, "mark": {"type": "text", "align": "left"}, "encoding": {"x": {"field": "d", "type": "temporal", "title": "date"}, "y": {"field": "v", "type": "quantitative", "title": "γ"}, "text": {"field": "t"}}}
  ]},
 {"width": 354, "height": 266, "title": {"text": "k300_192", "subtitle": "abus, epstein, sex, child, he"},
  "layer": [
   {"data": {"name": "p192"}, "mark": "line", "encoding": {
     "x": {"field": "d", "type": "temporal", "title": "date", "scale": {"type": "utc", "domain": [{"year": 1993, "month": 10, "date": 19, "utc": true}, {"year": 2021, "month": 10, "date": 19, "utc": true}]}, "axis": {"values": [{"year": 2000, "month": 1, "date": 1, "utc": true}, {"year": 2010, "month": 1, "date": 1, "utc": true}, {"year": 2020, "month": 1, "date": 1, "utc": true}], "format": "%Y"}},
     "y": {"field": "v", "type": "quantitative", "title": "γ", "scale": {"domain": [-0.003, 0.0705], "nice": false, "zero": false}, "axis": {"values": [0, 0.02, 0.04, 0.06], "format": ".2f"}}}},
   {"data": {"values": [{"d": "2016-12-15"}]}, "mark": "rule", "encoding": {"x": {"field": "d", "type": "temporal", "title": "date"}}},
   {"data": {"values": [{"d": "2016-12-15", "v": 0.0653, "t": "Pizzagate"}, {"d": "2016-12-15", "v": 0.0558, "t": "went viral"}]}, "mark": {"type": "text", "align": "right"}, "encoding": {"x": {"field": "d", "type": "temporal", "title": "date"}, "y": {"field": "v", "type": "quantitative", "title": "γ"}, "text": {"field": "t"}}}
  ]},
 {"width": 354, "height": 266, "title": {"text": "k300_169", "subtitle": "zika, virus, mosquito, infect, spread"},
  "layer": [
   {"data": {"name": "p169"}, "mark": "line", "encoding": {
     "x": {"field": "d", "type": "temporal", "title": "date", "scale": {"type": "utc", "domain": [{"year": 1993, "month": 10, "date": 19, "utc": true}, {"year": 2021, "month": 10, "date": 19, "utc": true}]}, "axis": {"values": [{"year": 2000, "month": 1, "date": 1, "utc": true}, {"year": 2010, "month": 1, "date": 1, "utc": true}, {"year": 2020, "month": 1, "date": 1, "utc": true}], "format": "%Y"}},
     "y": {"field": "v", "type": "quantitative", "title": "γ", "scale": {"domain": [-0.0041, 0.0868], "nice": false, "zero": false}, "axis": {"values": [0, 0.02, 0.04, 0.06, 0.08], "format": ".2f"}}}},
   {"data": {"values": [{"d": "2016-02-01"}]}, "mark": "rule", "encoding": {"x": {"field": "d", "type": "temporal", "title": "date"}}},
   {"data": {"values": [{"d": "2016-02-01", "v": 0.0747, "t": "Zika Virus Outbreak"}]}, "mark": {"type": "text", "align": "right"}, "encoding": {"x": {"field": "d", "type": "temporal", "title": "date"}, "y": {"field": "v", "type": "quantitative", "title": "γ"}, "text": {"field": "t"}}}
  ]}
 ], "spacing": 91, "bounds": "flush"},
{"hconcat": [
 {"width": 353, "height": 266, "title": {"text": "k300_146", "subtitle": "bush, presid, georg, his, he", "offset": 5},
  "layer": [
   {"data": {"name": "p146"}, "mark": "line", "encoding": {
     "x": {"field": "d", "type": "temporal", "title": "date", "scale": {"type": "utc", "domain": [{"year": 1993, "month": 10, "date": 19, "utc": true}, {"year": 2021, "month": 10, "date": 19, "utc": true}]}, "axis": {"values": [{"year": 2000, "month": 1, "date": 1, "utc": true}, {"year": 2010, "month": 1, "date": 1, "utc": true}, {"year": 2020, "month": 1, "date": 1, "utc": true}], "format": "%Y"}},
     "y": {"field": "v", "type": "quantitative", "title": "γ", "scale": {"domain": [-0.0038, 0.0803], "nice": false, "zero": false}, "axis": {"values": [0, 0.02, 0.04, 0.06, 0.08], "format": ".2f"}}}},
   {"data": {"values": [{"d": "2018-11-30"}]}, "mark": "rule", "encoding": {"x": {"field": "d", "type": "temporal", "title": "date"}}},
   {"data": {"values": [{"d": "2018-11-30", "v": 0.0742, "t": "George HW Bush"}, {"d": "2018-11-30", "v": 0.0635, "t": "death"}]}, "mark": {"type": "text", "align": "right"}, "encoding": {"x": {"field": "d", "type": "temporal", "title": "date"}, "y": {"field": "v", "type": "quantitative", "title": "γ"}, "text": {"field": "t"}}}
  ]},
 {"width": 797, "height": 266, "title": {"text": "k300_72", "subtitle": "attack, tower, center, trade, world"},
  "layer": [
   {"data": {"name": "p72"}, "mark": "line", "encoding": {
     "x": {"field": "d", "type": "temporal", "title": "date", "scale": {"type": "utc", "domain": [{"year": 1993, "month": 10, "date": 19, "utc": true}, {"year": 2021, "month": 10, "date": 19, "utc": true}]}, "axis": {"values": [{"year": 2000, "month": 1, "date": 1, "utc": true}, {"year": 2010, "month": 1, "date": 1, "utc": true}, {"year": 2020, "month": 1, "date": 1, "utc": true}], "format": "%Y"}},
     "y": {"field": "v", "type": "quantitative", "title": "γ", "scale": {"domain": [-0.0021, 0.0443], "nice": false, "zero": false}, "axis": {"values": [0, 0.01, 0.02, 0.03, 0.04], "format": ".2f"}}}},
   {"data": {"values": [{"d": "2001-09-11"}, {"d": "2002-09-11"}, {"d": "2003-09-11"}, {"d": "2004-09-11"}, {"d": "2005-09-11"}, {"d": "2006-09-11"}, {"d": "2007-09-11"}, {"d": "2008-09-11"}, {"d": "2009-09-11"}, {"d": "2010-09-11"}, {"d": "2011-09-11"}, {"d": "2012-09-11"}, {"d": "2013-09-11"}, {"d": "2014-09-11"}, {"d": "2015-09-11"}, {"d": "2016-09-11"}, {"d": "2017-09-11"}, {"d": "2018-09-11"}, {"d": "2019-09-11"}]}, "mark": "rule", "encoding": {"x": {"field": "d", "type": "temporal", "title": "date"}}}
  ]}
 ], "spacing": 92, "bounds": "flush"},
{"hconcat": [
 {"width": 579, "height": 266, "title": {"text": "k300_200", "subtitle": "coronavirus, covid, pandem, virus, sar"},
  "layer": [
   {"data": {"name": "p200"}, "mark": "line", "encoding": {
     "x": {"field": "d", "type": "temporal", "title": "date", "scale": {"type": "utc", "domain": [{"year": 2019, "month": 12, "date": 22, "utc": true}, {"year": 2020, "month": 7, "date": 10, "utc": true}]}, "axis": {"values": [{"year": 2020, "month": 1, "date": 1, "utc": true}, {"year": 2020, "month": 4, "date": 1, "utc": true}, {"year": 2020, "month": 7, "date": 1, "utc": true}], "format": "%b"}},
     "y": {"field": "v", "type": "quantitative", "title": "γ", "scale": {"domain": [-0.0007, 0.0294], "nice": false, "zero": false}, "axis": {"values": [0, 0.01, 0.02], "format": ".2f"}}}}
  ]},
 {"width": 578, "height": 266, "title": {"text": "k300_288", "subtitle": "coronavirus, covid, pandem, peopl, lockdown"},
  "layer": [
   {"data": {"name": "p288"}, "mark": "line", "encoding": {
     "x": {"field": "d", "type": "temporal", "title": "date", "scale": {"type": "utc", "domain": [{"year": 2019, "month": 12, "date": 22, "utc": true}, {"year": 2020, "month": 7, "date": 10, "utc": true}]}, "axis": {"values": [{"year": 2020, "month": 1, "date": 1, "utc": true}, {"year": 2020, "month": 4, "date": 1, "utc": true}, {"year": 2020, "month": 7, "date": 1, "utc": true}], "format": "%b"}},
     "y": {"field": "v", "type": "quantitative", "title": "γ", "scale": {"domain": [-0.002, 0.0632], "nice": false, "zero": false}, "axis": {"values": [0, 0.02, 0.04, 0.06], "format": ".2f"}}}}
  ]}
 ], "spacing": 88, "bounds": "flush"}
],
"spacing": 22
}
